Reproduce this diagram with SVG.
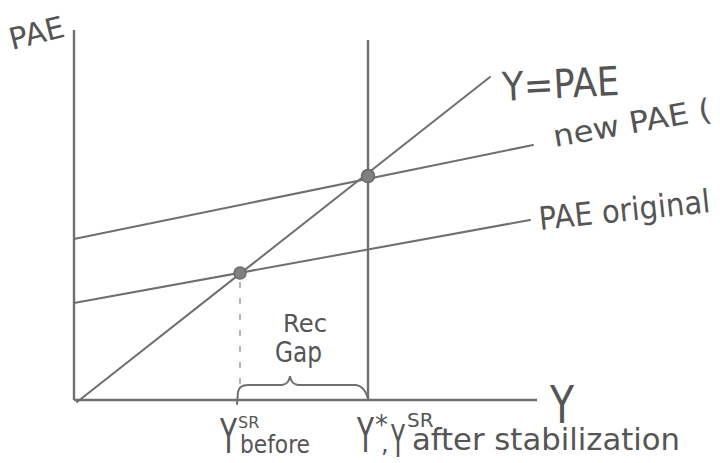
<svg xmlns="http://www.w3.org/2000/svg" width="720" height="463" viewBox="0 0 720 463">
  <style>
    .ln { stroke: #6f6f6f; stroke-width: 2; fill: none; stroke-linecap: round; }
    .ax { stroke: #707070; stroke-width: 2.4; fill: none; }
    .pt { fill: #808080; stroke: #6a6a6a; stroke-width: 1.5; }
    .tx { font-family: "DejaVu Sans", "Liberation Sans", sans-serif; fill: #555555; }
  </style>
  <rect width="720" height="463" fill="#ffffff"/>
  <g id="connectors">
    <line id="y-axis" class="ax" x1="74" y1="30" x2="74" y2="400"/>
    <line id="x-axis" class="ax" x1="74" y1="400" x2="537" y2="400"/>
    <line id="y-star-line" class="ax" x1="368" y1="40" x2="368" y2="400"/>
    <line id="y-eq-pae" class="ln" x1="77" y1="402" x2="490" y2="77"/>
    <line id="pae-new" class="ln" x1="74" y1="239" x2="533" y2="145"/>
    <line id="pae-original" class="ln" x1="74" y1="303" x2="530" y2="220"/>
    <line id="drop-line" x1="240" y1="282" x2="240" y2="384" stroke="#b5b5b5" stroke-width="2" stroke-dasharray="6 10"/>
    <path id="gap-brace" class="ln" d="M237 404 L238 392 Q239 385 248 385 L282 385 Q289 384 290 376 Q291 384 298 385 L356 385 Q364 386 368 398"/>
  </g>
  <g id="point-before">
    <circle class="pt" cx="240" cy="273" r="6"/>
  </g>
  <g id="point-after">
    <circle class="pt" cx="368" cy="176" r="6.5"/>
  </g>
  <g id="label-pae-axis">
    <text class="tx" x="12" y="50" font-size="30" textLength="56" lengthAdjust="spacingAndGlyphs" transform="rotate(-14 12 50)">PAE</text>
  </g>
  <g id="label-y-eq-pae">
    <text class="tx" x="503" y="101" font-size="40" textLength="117" lengthAdjust="spacingAndGlyphs" transform="rotate(-3 503 101)">Y=PAE</text>
  </g>
  <g id="label-new-pae">
    <text class="tx" x="555" y="147" font-size="30" textLength="160" lengthAdjust="spacingAndGlyphs" transform="rotate(-10 555 147)">new PAE (</text>
  </g>
  <g id="label-pae-original">
    <text class="tx" x="540" y="230" font-size="32" textLength="172" lengthAdjust="spacingAndGlyphs" transform="rotate(-6 540 230)">PAE original</text>
  </g>
  <g id="label-rec-gap">
    <text class="tx" font-size="24"><tspan x="283" y="332" textLength="44" lengthAdjust="spacingAndGlyphs">Rec</tspan><tspan x="275" y="362" font-size="28" textLength="47" lengthAdjust="spacingAndGlyphs">Gap</tspan></text>
  </g>
  <g id="label-y-axis">
    <text class="tx" x="550" y="423" font-size="52" textLength="24" lengthAdjust="spacingAndGlyphs">Y</text>
  </g>
  <g id="label-ysr-before">
    <text class="tx" font-size="48"><tspan x="220" y="453" textLength="17" lengthAdjust="spacingAndGlyphs">Y</tspan><tspan x="238" y="428" font-size="16">SR</tspan><tspan x="240" y="453" font-size="24" textLength="70" lengthAdjust="spacingAndGlyphs">before</tspan></text>
  </g>
  <g id="label-ystar-after">
    <text class="tx" font-size="48"><tspan x="357" y="452" textLength="17" lengthAdjust="spacingAndGlyphs">Y</tspan><tspan x="375" y="434" font-size="26">*</tspan><tspan x="381" y="452" font-size="24">,</tspan><tspan x="391" y="457" font-size="44" textLength="14" lengthAdjust="spacingAndGlyphs">Y</tspan><tspan x="407" y="427" font-size="20">SR</tspan><tspan x="412" y="450" font-size="30" textLength="268" lengthAdjust="spacingAndGlyphs">after stabilization</tspan></text>
  </g>
</svg>
